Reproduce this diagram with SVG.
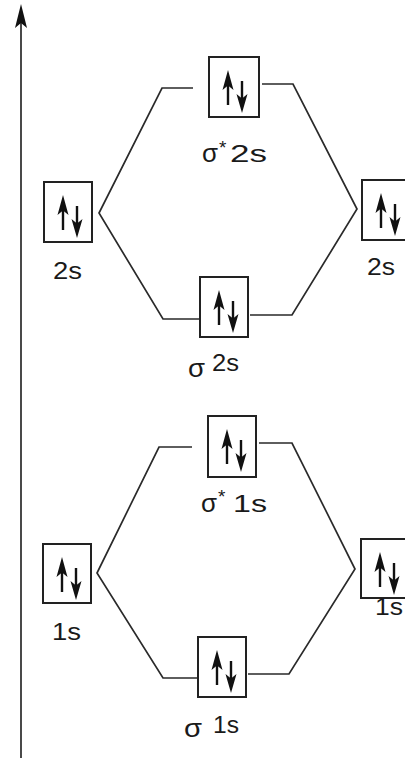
<svg xmlns="http://www.w3.org/2000/svg" xmlns:xlink="http://www.w3.org/1999/xlink" width="405" height="763" viewBox="0 0 405 763">
<style>
.box{fill:#fff;stroke:#222;stroke-width:2}
.ln{fill:none;stroke:#2a2a2a;stroke-width:1.7}
.sh{stroke:#111;stroke-width:2.4}
.hd{fill:#111}
.lb{font-family:"Liberation Sans",Arial,sans-serif;font-size:24px;fill:#1a1a1a}
.sg{font-family:"Liberation Sans",Arial,sans-serif;font-size:26px;fill:#1a1a1a}
.st{font-family:"Liberation Sans",Arial,sans-serif;font-size:19px;fill:#1a1a1a}
</style>
<defs>
<g id="pair">
<line class="sh" x1="19" y1="27" x2="19" y2="48"/>
<polygon class="hd" points="19,13 13.5,33 19,28.5 24.5,33"/>
<line class="sh" x1="33" y1="24" x2="33" y2="43"/>
<polygon class="hd" points="33,56 27.5,37 33,41.5 38.5,37"/>
</g>
</defs>
<rect width="405" height="763" fill="#fff"/>
<g id="axis">
<line class="ln" x1="21" y1="22" x2="21" y2="758"/>
<polygon class="hd" points="21,4 15,28 21,23 27,28"/>
</g>
<g id="connectors">
<polyline class="ln" points="193,88 162,88 99,213 163,319 205,319"/>
<polyline class="ln" points="262,84 293,84 357,209 292,315 250,315"/>
<polyline class="ln" points="192,447 159,447 97,573 163,678 204,678"/>
<polyline class="ln" points="259,443 292,443 355,569 289,674 248,674"/>
</g>
<g id="sigma-star-2s">
<rect class="box" x="209" y="57" width="50" height="60"/>
<use xlink:href="#pair" x="209" y="57"/>
<text class="sg" x="202" y="162" textLength="16" lengthAdjust="spacingAndGlyphs">σ</text>
<text class="st" x="219" y="154">*</text>
<text class="lb" x="230" y="162" textLength="37" lengthAdjust="spacingAndGlyphs">2s</text>
</g>
<g id="left-2s">
<rect class="box" x="44" y="182" width="48" height="60"/>
<use xlink:href="#pair" x="44" y="182"/>
<text class="lb" x="53" y="279" textLength="29" lengthAdjust="spacingAndGlyphs">2s</text>
</g>
<g id="right-2s">
<rect class="box" x="362" y="180" width="48" height="60"/>
<use xlink:href="#pair" x="362" y="180"/>
<text class="lb" x="367" y="275" textLength="28" lengthAdjust="spacingAndGlyphs">2s</text>
</g>
<g id="sigma-2s">
<rect class="box" x="200" y="277" width="48" height="60"/>
<use xlink:href="#pair" x="200" y="277"/>
<text class="sg" x="188" y="377" textLength="17" lengthAdjust="spacingAndGlyphs">σ</text>
<text class="lb" x="212" y="371" textLength="27" lengthAdjust="spacingAndGlyphs">2s</text>
</g>
<g id="sigma-star-1s">
<rect class="box" x="208" y="416" width="48" height="61"/>
<use xlink:href="#pair" x="208" y="416"/>
<text class="sg" x="201" y="512" textLength="16" lengthAdjust="spacingAndGlyphs">σ</text>
<text class="st" x="218" y="503">*</text>
<text class="lb" x="233" y="512" textLength="34" lengthAdjust="spacingAndGlyphs">1s</text>
</g>
<g id="left-1s">
<rect class="box" x="43" y="544" width="48" height="59"/>
<use xlink:href="#pair" x="43" y="544"/>
<text class="lb" x="52" y="640" textLength="29" lengthAdjust="spacingAndGlyphs">1s</text>
</g>
<g id="right-1s">
<rect class="box" x="361" y="539" width="48" height="59"/>
<use xlink:href="#pair" x="361" y="539"/>
<text class="lb" x="375" y="615" textLength="28" lengthAdjust="spacingAndGlyphs">1s</text>
</g>
<g id="sigma-1s">
<rect class="box" x="198" y="637" width="48" height="60"/>
<use xlink:href="#pair" x="198" y="637"/>
<text class="sg" x="184" y="737" textLength="18" lengthAdjust="spacingAndGlyphs">σ</text>
<text class="lb" x="213" y="733" textLength="26" lengthAdjust="spacingAndGlyphs">1s</text>
</g>
</svg>
